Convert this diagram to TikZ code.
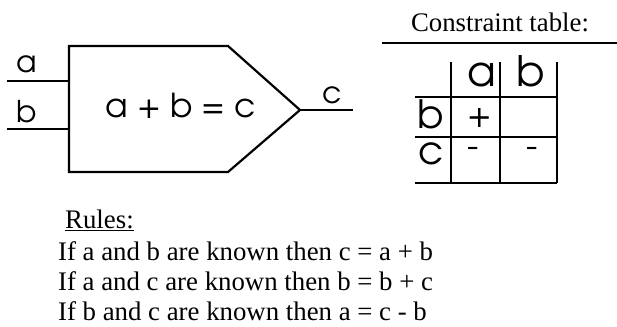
\documentclass[tikz,border=0pt]{standalone}
\usepackage{fontspec}
\setmainfont{Liberation Serif}
\newfontfamily\gothicfont{TeX Gyre Adventor}
\begin{document}
\begin{tikzpicture}[x=1pt,y=-1pt,
  blockline/.style={line width=2.2pt, line join=miter},
  wire/.style={line width=2pt},
  gridline/.style={line width=2.4pt},
  eqtext/.style={font=\gothicfont\fontsize{33}{36}\selectfont, inner sep=0pt, anchor=base},
  portlabel/.style={font=\gothicfont\fontsize{30}{34}\selectfont, inner sep=0pt, anchor=base},
  headtext/.style={font=\gothicfont\fontsize{42}{46}\selectfont, inner sep=0pt, anchor=base},
  celltext/.style={font=\gothicfont\fontsize{39}{44}\selectfont, inner sep=0pt, anchor=base},
  signtext/.style={font=\gothicfont\fontsize{34}{38}\selectfont, inner sep=0pt, anchor=center},
  serif/.style={font=\fontsize{26.8}{30}\selectfont, inner sep=0pt}
]
\useasboundingbox (0,0) rectangle (617,326);

% block
\coordinate (tl) at (69,46);
\coordinate (tr) at (228,46);
\coordinate (tip) at (300,110);
\coordinate (br) at (228,172);
\coordinate (bl) at (69,172);
\draw[blockline] (tl) -- (tr) -- (tip) -- (br) -- (bl) -- cycle;

% wires
\coordinate (ain) at (7,81);
\coordinate (aport) at (69,81);
\coordinate (bin) at (7,129);
\coordinate (bport) at (69,129);
\coordinate (cout) at (353,110);
\draw[wire] (ain) -- (aport);
\draw[wire] (bin) -- (bport);
\draw[wire] (tip) -- (cout);

\node[portlabel] (la) at (27,73) {a};
\node[portlabel] (lb) at (27,122) {b};
\node[portlabel] (lc) at (332,103) {c};
\node[eqtext] (eq) at (181,117) {a + b = c};

% constraint table
\node[serif, anchor=base] (title) at (500,32) {Constraint table:};
\coordinate (ul0) at (382,43);
\coordinate (ul1) at (617,43);
\draw[wire] (ul0) -- (ul1);

\coordinate (v1t) at (451,62); \coordinate (v1b) at (451,183);
\coordinate (v2t) at (500,62); \coordinate (v2b) at (500,183);
\coordinate (v3t) at (557,62); \coordinate (v3b) at (557,183);
\coordinate (h1l) at (415,97);  \coordinate (h1r) at (557,97);
\coordinate (h2l) at (415,137); \coordinate (h2r) at (557,137);
\coordinate (h3l) at (415,183); \coordinate (h3r) at (557,183);
\draw[gridline] (v1t) -- (v1b);
\draw[gridline] (v2t) -- (v2b);
\draw[gridline] (v3t) -- (v3b);
\draw[gridline] (h1l) -- (h1r);
\draw[gridline] (h2l) -- (h2r);
\draw[gridline] (h3l) -- (h3r);

\node[headtext] (ha) at (482,87) {a};
\node[headtext] (hb) at (531,87) {b};
\node[celltext] (rb) at (431,128) {b};
\node[celltext] (rc) at (431,164) {c};
\node[signtext] (plus) at (480,118) {+};
\node[signtext] (m1) at (473,152) {-};
\node[signtext] (m2) at (532,152) {-};

% rules
\node[serif, anchor=base west] (rules) at (65,228) {\underline{Rules:}};
\node[serif, anchor=base west] (r1) at (58,260) {If a and b are known then c = a + b};
\node[serif, anchor=base west] (r2) at (58,290) {If a and c are known then b = b + c};
\node[serif, anchor=base west] (r3) at (58,320) {If b and c are known then a = c - b};
\end{tikzpicture}
\end{document}
